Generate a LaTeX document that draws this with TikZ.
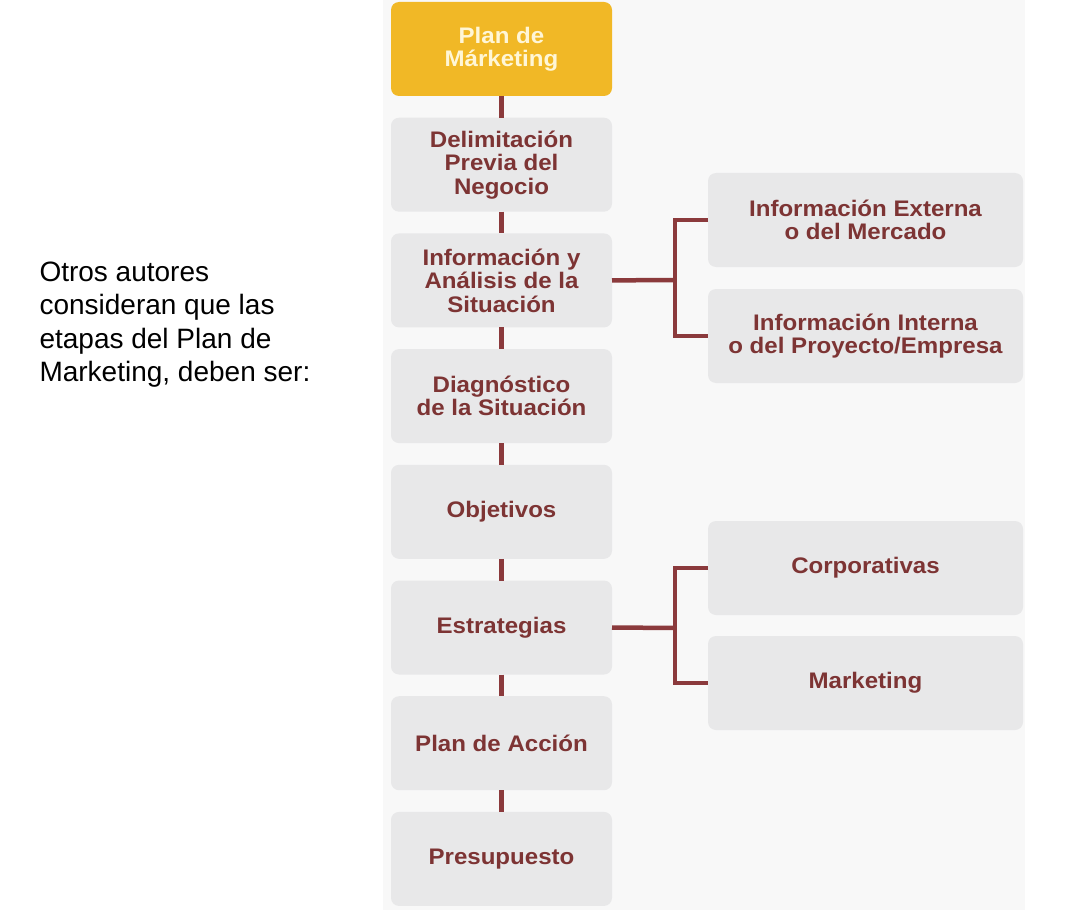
\documentclass[tikz,border=0pt]{standalone}
\usepackage{fontspec}
\setmainfont{Liberation Sans}
\newfontfamily\stagefont{Liberation Sans}[FakeStretch=1.07]
\usepackage{xcolor}
\usetikzlibrary{positioning}
\definecolor{mkGold}{RGB}{241,184,38}
\definecolor{mkCream}{RGB}{255,246,214}
\definecolor{mkGray}{RGB}{232,232,233}
\definecolor{mkPanel}{RGB}{248,248,248}
\definecolor{mkRed}{RGB}{125,52,52}
\definecolor{mkLine}{RGB}{139,58,60}

\begin{document}
\begin{tikzpicture}[
    x=1pt, y=1pt,
    node distance=21.7pt,
    stage/.style ={rectangle, rounded corners=8pt, fill=mkGray, outer sep=0pt, align=center, minimum width=221pt, minimum height=94pt, text=mkRed, font=\stagefont\fontsize{22.5}{23.5}\selectfont\bfseries},
    head/.style  ={stage, fill=mkGold, text=mkCream},
    sub/.style   ={stage, minimum width=315pt},
    link/.style  ={line width=4.5pt, draw=mkLine}
]
\useasboundingbox (0,0) rectangle (1074,-915);
\fill[mkPanel] (383,0) rectangle (1025,-910);
\node[anchor=north west, align=left, font=\fontsize{28}{33.5}\selectfont] (intro) at (36,-258)
 {Otros autores\\consideran que las\\etapas del Plan de\\Marketing, deben ser:};
\node[head] (plan) at (501.5,-49) {Plan de\\Márketing};
\node[stage, below=of plan] (delim) {Delimitación\\Previa del\\Negocio};
\node[stage, below=of delim] (info) {Información y\\Análisis de la\\Situación};
\node[stage, below=of info] (diag) {Diagnóstico\\de la Situación};
\node[stage, below=of diag] (obj) {Objetivos};
\node[stage, below=of obj] (estr) {Estrategias};
\node[stage, below=of estr] (accion) {Plan de Acción};
\node[stage, below=of accion] (presu) {Presupuesto};
\node[sub] (ext) at (865.5,-220) {Información Externa\\o del Mercado};
\node[sub] (int) at (865.5,-336) {Información Interna\\o del Proyecto/Empresa};
\node[sub] (corp) at (865.5,-568) {Corporativas};
\node[sub] (mkt) at (865.5,-683) {Marketing};
\draw[link] (plan) -- (delim);
\draw[link] (delim) -- (info);
\draw[link] (info) -- (diag);
\draw[link] (diag) -- (obj);
\draw[link] (obj) -- (estr);
\draw[link] (estr) -- (accion);
\draw[link] (accion) -- (presu);
\coordinate (infoj) at (675,-280);
\coordinate (estrj) at (675,-628);
\draw[link] (info.east) -- (infoj);
\draw[link] (ext.west) -| (infoj) |- (int.west);
\draw[link] (estr.east) -- (estrj);
\draw[link] (corp.west) -| (estrj) |- (mkt.west);
\end{tikzpicture}
\end{document}
